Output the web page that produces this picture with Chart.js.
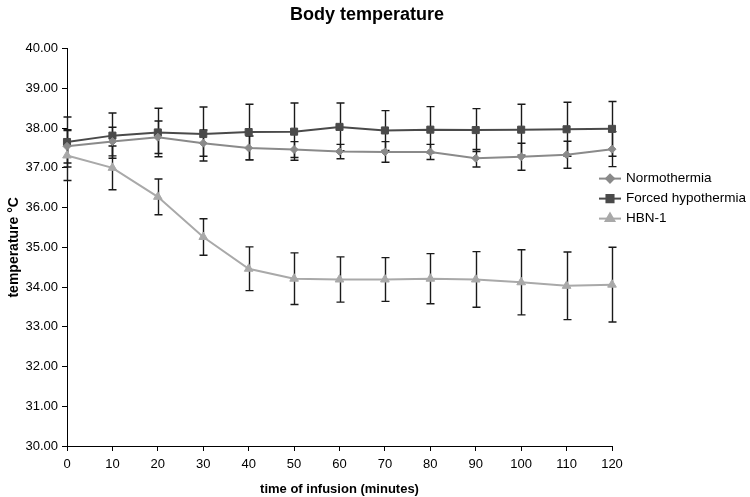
<!DOCTYPE html>
<html>
<head>
<meta charset="utf-8">
<title>Body temperature</title>
<script src="https://cdn.jsdelivr.net/npm/chart.js@4.4.0/dist/chart.umd.min.js"></script>
<style>
    html, body { margin: 0; padding: 0; background: #fff; }
    #wrap { width: 750px; height: 497px; position: relative; }
</style>
</head>
<body>
<div id="wrap"><canvas id="graf"></canvas></div>
<script>
// tempos de infusao (minutos)
const tempos = [0, 10, 20, 30, 40, 50, 60, 70, 80, 90, 100, 110, 120];

// medias e desvios
const normo = [37.54, 37.66, 37.77, 37.62, 37.50, 37.46, 37.41, 37.40, 37.40, 37.24, 37.28, 37.33, 37.47];
const normoSD = [0.42, 0.36, 0.41, 0.33, 0.30, 0.20, 0.18, 0.26, 0.19, 0.22, 0.34, 0.34, 0.44];

const forcada = [37.65, 37.81, 37.89, 37.85, 37.90, 37.91, 38.03, 37.94, 37.96, 37.95, 37.96, 37.97, 37.98];
const forcadaSD = [0.63, 0.57, 0.61, 0.68, 0.70, 0.72, 0.60, 0.50, 0.58, 0.54, 0.64, 0.68, 0.69];

const hbn = [37.31, 37.00, 36.27, 35.26, 34.46, 34.21, 34.19, 34.19, 34.21, 34.19, 34.12, 34.03, 34.06];
const hbnSD = [0.63, 0.55, 0.45, 0.46, 0.55, 0.65, 0.57, 0.55, 0.63, 0.70, 0.82, 0.85, 0.94];

const nomes = ['Normothermia', 'Forced hypothermia', 'HBN-1'];

function pontos(vals) {
    return tempos.map((t, i) => ({ x: t, y: vals[i] }));
}

Chart.defaults.font.family = "'Liberation Sans', Arial, sans-serif";
Chart.defaults.color = '#000';

// barras de erro desenhadas com as escalas do proprio chart
const barrasErro = {
    id: 'barrasErro',
    beforeDatasetsDraw(chart) {
        const { ctx } = chart;
        const x = chart.scales.x, y = chart.scales.y;
        ctx.save();
        ctx.strokeStyle = '#1a1a1a';
        ctx.lineWidth = 1.4;
        chart.data.datasets.forEach(ds => {
            ds.data.forEach((p, i) => {
                const px = Math.round(x.getPixelForValue(p.x)) + 0.5;
                const yt = y.getPixelForValue(p.y + ds.sd[i]);
                const yb = y.getPixelForValue(p.y - ds.sd[i]);
                ctx.beginPath();
                ctx.moveTo(px, yt); ctx.lineTo(px, yb);
                ctx.moveTo(px - 4, yt); ctx.lineTo(px + 4, yt);
                ctx.moveTo(px - 4, yb); ctx.lineTo(px + 4, yb);
                ctx.stroke();
            });
        });
        ctx.restore();
    }
};

// legenda a direita, por cima da area do grafico
const legendaMao = {
    id: 'legendaMao',
    afterDraw(chart) {
        const { ctx, chartArea } = chart;
        const x0 = chartArea.right - 13;
        const y0 = chartArea.top + 130;
        ctx.save();
        chart.data.datasets.forEach((ds, i) => {
            const yy = y0 + i * 20;
            ctx.strokeStyle = ds.borderColor;
            ctx.lineWidth = 2;
            ctx.beginPath();
            ctx.moveTo(x0, yy); ctx.lineTo(x0 + 22, yy);
            ctx.stroke();
            ctx.fillStyle = ds.pointBackgroundColor;
            ctx.strokeStyle = ds.pointBorderColor;
            Chart.helpers.drawPoint(ctx, {
                pointStyle: ds.pointStyle, radius: ds.pointRadius, borderWidth: 1, rotation: 0
            }, x0 + 11, yy);
            ctx.fillStyle = '#000';
            ctx.font = "13.5px 'Liberation Sans', Arial, sans-serif";
            ctx.textBaseline = 'middle';
            ctx.textAlign = 'left';
            ctx.fillText(ds.label, x0 + 27, yy);
        });
        ctx.restore();
    }
};

function serie(label, vals, sd, cor, estilo, raio) {
    return {
        label: label,
        data: pontos(vals),
        sd: sd,
        borderColor: cor,
        backgroundColor: cor,
        pointBackgroundColor: cor,
        pointBorderColor: cor,
        pointStyle: estilo,
        pointRadius: raio,
        pointBorderWidth: 1,
        borderWidth: 2,
        tension: 0,
        clip: false
    };
}

new Chart(document.getElementById('graf').getContext('2d'), {
    type: 'line',
    data: {
        datasets: [
            serie(nomes[0], normo, normoSD, '#8a8a8a', 'rectRot', 4),
            serie(nomes[1], forcada, forcadaSD, '#4a4a4a', 'rect', 5),
            serie(nomes[2], hbn, hbnSD, '#a9a9a9', 'triangle', 5)
        ]
    },
    options: {
        responsive: true,
        maintainAspectRatio: false,
        animation: false,
        devicePixelRatio: 1,
        layout: { padding: { top: 4, left: 0, right: 16, bottom: 0 } },
        plugins: {
            legend: { display: false },
            tooltip: { enabled: false },
            title: {
                display: true,
                text: 'Body temperature',
                color: '#000',
                font: { size: 18, weight: 'bold' },
                padding: { top: 0, bottom: 23 }
            }
        },
        scales: {
            x: {
                type: 'linear',
                min: 0,
                max: 120,
                ticks: { stepSize: 10, color: '#000', font: { size: 13 }, padding: 6, maxRotation: 0 },
                grid: { drawOnChartArea: false, drawTicks: true, tickLength: 5, color: '#000' },
                border: { color: '#000', width: 1 },
                title: {
                    display: true,
                    text: 'time of infusion (minutes)',
                    color: '#000',
                    font: { size: 13, weight: 'bold' },
                    padding: { top: 6, bottom: 0 }
                },
                afterFit: s => { s.height = 51; }
            },
            y: {
                min: 30,
                max: 40,
                ticks: { stepSize: 1, color: '#000', font: { size: 13 }, padding: 4, callback: v => Number(v).toFixed(2) },
                grid: { drawOnChartArea: false, drawTicks: true, tickLength: 5, color: '#000' },
                border: { color: '#000', width: 1 },
                title: {
                    display: true,
                    text: 'temperature °C',
                    color: '#000',
                    font: { size: 14, weight: 'bold' },
                    padding: { top: 6, bottom: 0 }
                },
                afterFit: s => { s.width = 67; }
            },
            // eixo vazio so para reservar o espaco da legenda
            yR: {
                position: 'right',
                min: 0,
                max: 1,
                grid: { display: false },
                ticks: { display: false },
                border: { display: false },
                afterFit: s => { s.width = 122; }
            }
        }
    },
    plugins: [barrasErro, legendaMao]
});
</script>
</body>
</html>
